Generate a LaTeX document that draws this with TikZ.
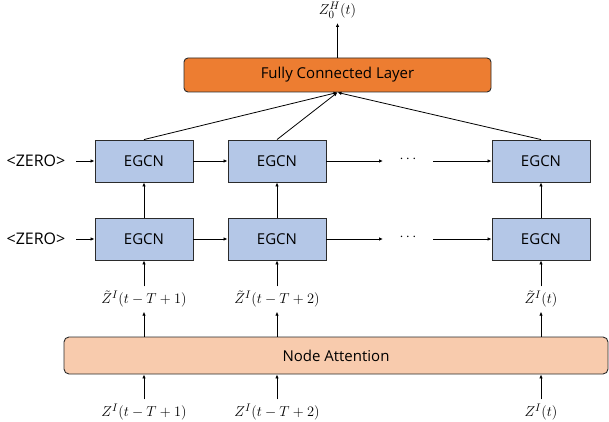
\documentclass[tikz,border=0pt]{standalone}
\usepackage{fontspec}
\setmainfont{Open Sans}
\usetikzlibrary{arrows.meta}
\definecolor{egfill}{HTML}{B4C7E7}
\definecolor{fcfill}{HTML}{ED7D31}
\definecolor{nafill}{HTML}{F8CBAD}
\definecolor{edge}{HTML}{2B2B2B}
\begin{document}
\begin{tikzpicture}[x=1pt,y=-1pt,
  every node/.style={font=\fontsize{15}{18}\selectfont},
  egbox/.style={draw=edge,line width=0.9pt,fill=egfill,minimum width=98pt,minimum height=42pt,inner sep=0pt},
  fcbox/.style={draw=edge,line width=0.9pt,fill=fcfill,rounded corners=4pt,minimum width=307pt,minimum height=34pt,inner sep=0pt},
  nabox/.style={draw=edge,line width=0.9pt,fill=nafill,rounded corners=5pt,minimum width=544pt,minimum height=37pt,inner sep=0pt},
  lab/.style={inner sep=0pt,minimum height=25pt,font=\fontsize{15.5}{18}\selectfont},
  conn/.style={-{Latex[length=4pt,width=3.5pt]},line width=0.8pt,black}]
\useasboundingbox (0,0) rectangle (609,422);
% top
\node[fcbox] (fc) at (337.5,75) {Fully Connected Layer};
\node[inner sep=0pt,font=\fontsize{15.5}{18}\selectfont] (out) at (337.5,10) {$Z_0^H(t)$};
\coordinate (outend) at (337.5,23);
\draw[conn] (fc.north) -- (outend);
% EGCN rows
\node[egbox] (a1) at (144,161) {EGCN};
\node[egbox] (b1) at (277,161) {EGCN};
\node[egbox] (c1) at (541,161) {EGCN};
\node[egbox] (a0) at (144,239) {EGCN};
\node[egbox] (b0) at (277,239) {EGCN};
\node[egbox] (c0) at (541,239) {EGCN};
\node[font=\fontsize{16}{18}\selectfont] (z1) at (36,161) {<ZERO>};
\node[font=\fontsize{16}{18}\selectfont] (z0) at (36,239) {<ZERO>};
\coordinate (z1e) at (76,161);
\coordinate (z0e) at (76,239);
\draw[conn] (z1e) -- (a1.west);
\draw[conn] (z0e) -- (a0.west);
\draw[conn] (a1.east) -- (b1.west);
\draw[conn] (a0.east) -- (b0.west);
\node (d1) at (408,159) {$\cdots$};
\node (d0) at (408,237) {$\cdots$};
\coordinate (d1l) at (383,161);
\coordinate (d1r) at (433,161);
\coordinate (d0l) at (383,239);
\coordinate (d0r) at (433,239);
\draw[conn] (b1.east) -- (d1l);
\draw[conn] (d1r) -- (c1.west);
\draw[conn] (b0.east) -- (d0l);
\draw[conn] (d0r) -- (c0.west);
\draw[conn] (a0.north) -- (a1.south);
\draw[conn] (b0.north) -- (b1.south);
\draw[conn] (c0.north) -- (c1.south);
\draw[conn] (a1.north) -- (fc.south);
\draw[conn] (b1.north) -- (fc.south);
\draw[conn] (c1.north) -- (fc.south);
% attention
\node[nabox] (na) at (336,355.5) {Node Attention};
\node[lab] (t1) at (144,299) {$\tilde{Z}^I(t-T+1)$};
\node[lab] (t2) at (277,299) {$\tilde{Z}^I(t-T+2)$};
\node[lab] (t3) at (541,299) {$\tilde{Z}^I(t)$};
\draw[conn] (t1.north) -- (a0.south);
\draw[conn] (t2.north) -- (b0.south);
\draw[conn] (t3.north) -- (c0.south);
\draw[conn] (na.north -| t1) -- (t1.south);
\draw[conn] (na.north -| t2) -- (t2.south);
\draw[conn] (na.north -| t3) -- (t3.south);
\node[lab] (i1) at (144,412) {$Z^I(t-T+1)$};
\node[lab] (i2) at (277,412) {$Z^I(t-T+2)$};
\node[lab] (i3) at (541,412) {$Z^I(t)$};
\draw[conn] (i1.north) -- (na.south -| i1);
\draw[conn] (i2.north) -- (na.south -| i2);
\draw[conn] (i3.north) -- (na.south -| i3);
\end{tikzpicture}
\end{document}
